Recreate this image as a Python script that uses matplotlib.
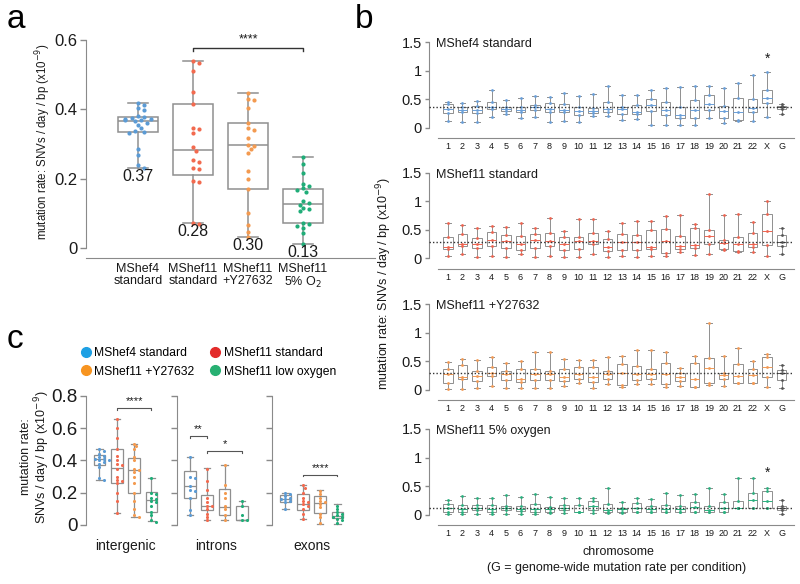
import numpy as np
import matplotlib
matplotlib.use('Agg')
import matplotlib.pyplot as plt
from matplotlib.lines import Line2D

plt.rcParams['font.family'] = ['Liberation Sans', 'DejaVu Sans']
plt.rcParams['axes.edgecolor'] = '#8a8a8a'
plt.rcParams['xtick.color'] = '#8a8a8a'
plt.rcParams['ytick.color'] = '#8a8a8a'
plt.rcParams['xtick.labelcolor'] = '#1a1a1a'
plt.rcParams['ytick.labelcolor'] = '#1a1a1a'

# ---------------- data: panel a ----------------
a_groups = ['MShef4\nstandard', 'MShef11\nstandard', 'MShef11\n+Y27632', 'MShef11\n5% O$_2$']
a_medlabels = ['0.37', '0.28', '0.30', '0.13']
# box stats: whislo, q1, med, q3, whishi
a_box = [(0.232, 0.336, 0.367, 0.377, 0.419),
         (0.071, 0.212, 0.282, 0.414, 0.540),
         (0.033, 0.171, 0.296, 0.361, 0.446),
         (0.011, 0.071, 0.127, 0.171, 0.262)]
a_pts_mshef4 = [0.417, 0.413, 0.405, 0.398, 0.38, 0.377, 0.375, 0.373, 0.372, 0.37, 0.369,
                0.366, 0.362, 0.355, 0.345, 0.338, 0.335, 0.333, 0.287, 0.268, 0.238, 0.232]
a_pts_mshef11 = [0.540, 0.533, 0.511, 0.451, 0.415, 0.345, 0.342, 0.331, 0.292, 0.281,
                 0.254, 0.249, 0.230, 0.229, 0.193, 0.190, 0.073, 0.069]
a_pts_y27632 = [0.446, 0.430, 0.427, 0.405, 0.361, 0.345, 0.340, 0.316, 0.297, 0.295,
                0.286, 0.273, 0.222, 0.198, 0.170, 0.100, 0.066, 0.047, 0.033]
a_pts_o2 = [0.262, 0.242, 0.215, 0.184, 0.178, 0.172, 0.167, 0.162, 0.136, 0.129, 0.125,
            0.116, 0.112, 0.107, 0.071, 0.068, 0.064, 0.059, 0.042, 0.011]

# ---------------- data: panel b ----------------
chromosomes = [str(i) for i in range(1, 23)] + ['X', 'G']
b_titles = ['MShef4 standard', 'MShef11 standard', 'MShef11 +Y27632', 'MShef11 5% oxygen']
b_genome_rate = [0.37, 0.28, 0.30, 0.13]
b_mshef4 = [(0.12, 0.26, 0.33, 0.42, 0.45), (0.10, 0.27, 0.32, 0.36, 0.43), (0.10, 0.26, 0.32, 0.38, 0.47),
            (0.20, 0.33, 0.37, 0.45, 0.66), (0.24, 0.30, 0.33, 0.37, 0.49), (0.17, 0.28, 0.32, 0.37, 0.52),
            (0.20, 0.32, 0.36, 0.40, 0.56), (0.10, 0.28, 0.33, 0.44, 0.54), (0.12, 0.27, 0.32, 0.41, 0.61),
            (0.11, 0.23, 0.30, 0.36, 0.56), (0.21, 0.26, 0.30, 0.35, 0.59), (0.21, 0.28, 0.33, 0.45, 0.74),
            (0.14, 0.24, 0.33, 0.37, 0.58), (0.16, 0.24, 0.28, 0.40, 0.57), (0.05, 0.30, 0.40, 0.50, 0.67),
            (0.05, 0.23, 0.32, 0.46, 0.70), (0.06, 0.17, 0.23, 0.37, 0.71), (0.06, 0.17, 0.32, 0.48, 0.74),
            (0.17, 0.32, 0.41, 0.58, 0.74), (0.08, 0.18, 0.29, 0.38, 0.69), (0.13, 0.14, 0.27, 0.53, 0.78),
            (0.13, 0.27, 0.35, 0.50, 0.92), (0.19, 0.44, 0.52, 0.67, 0.97), (0.24, 0.33, 0.36, 0.38, 0.42)]
b_mshef11 = [(0.05, 0.16, 0.20, 0.38, 0.62), (0.07, 0.22, 0.25, 0.43, 0.58), (0.02, 0.18, 0.26, 0.36, 0.53),
             (0.05, 0.22, 0.33, 0.46, 0.57), (0.02, 0.18, 0.30, 0.41, 0.55), (0.08, 0.14, 0.25, 0.40, 0.62),
             (0.02, 0.18, 0.33, 0.42, 0.54), (0.04, 0.22, 0.30, 0.44, 0.70), (0.03, 0.14, 0.25, 0.38, 0.48),
             (0.03, 0.17, 0.30, 0.38, 0.69), (0.07, 0.25, 0.30, 0.44, 0.69), (0.03, 0.13, 0.20, 0.34, 0.48),
             (0.05, 0.14, 0.28, 0.42, 0.62), (0.03, 0.15, 0.28, 0.41, 0.66), (0.05, 0.16, 0.20, 0.50, 0.66),
             (0.05, 0.10, 0.30, 0.51, 0.74), (0.12, 0.16, 0.22, 0.40, 0.76), (0.06, 0.18, 0.24, 0.53, 0.60),
             (0.08, 0.26, 0.40, 0.49, 1.13), (0.15, 0.16, 0.27, 0.33, 0.76), (0.12, 0.13, 0.26, 0.38, 0.77),
             (0.12, 0.20, 0.25, 0.45, 0.64), (0.05, 0.24, 0.48, 0.77, 1.01), (0.07, 0.21, 0.28, 0.41, 0.54)]
b_y27632 = [(0.02, 0.12, 0.27, 0.37, 0.48), (0.02, 0.19, 0.23, 0.43, 0.54), (0.03, 0.16, 0.24, 0.33, 0.53),
            (0.07, 0.25, 0.30, 0.40, 0.57), (0.03, 0.17, 0.27, 0.33, 0.47), (0.03, 0.14, 0.20, 0.37, 0.50),
            (0.03, 0.18, 0.28, 0.36, 0.67), (0.03, 0.18, 0.28, 0.33, 0.67), (0.07, 0.16, 0.23, 0.36, 0.54),
            (0.13, 0.20, 0.27, 0.40, 0.53), (0.03, 0.14, 0.23, 0.40, 0.53), (0.10, 0.19, 0.27, 0.33, 0.57),
            (0.05, 0.09, 0.30, 0.45, 0.59), (0.10, 0.17, 0.27, 0.42, 0.69), (0.10, 0.20, 0.27, 0.36, 0.69),
            (0.05, 0.10, 0.27, 0.47, 0.66), (0.07, 0.15, 0.22, 0.29, 0.38), (0.05, 0.05, 0.20, 0.47, 0.59),
            (0.08, 0.12, 0.39, 0.55, 1.16), (0.07, 0.20, 0.26, 0.30, 0.59), (0.12, 0.13, 0.25, 0.46, 0.74),
            (0.12, 0.12, 0.26, 0.36, 0.50), (0.05, 0.23, 0.40, 0.58, 0.63), (0.03, 0.17, 0.30, 0.35, 0.44)]
b_o2 = [(0.02, 0.06, 0.12, 0.20, 0.26), (0.02, 0.06, 0.10, 0.18, 0.33), (0.02, 0.08, 0.12, 0.18, 0.29),
        (0.02, 0.06, 0.10, 0.18, 0.30), (0.02, 0.09, 0.12, 0.15, 0.34), (0.02, 0.07, 0.11, 0.15, 0.32),
        (0.02, 0.06, 0.10, 0.20, 0.37), (0.03, 0.06, 0.10, 0.14, 0.31), (0.03, 0.09, 0.12, 0.18, 0.29),
        (0.05, 0.06, 0.06, 0.18, 0.30), (0.03, 0.09, 0.15, 0.25, 0.30), (0.03, 0.05, 0.09, 0.20, 0.47),
        (0.04, 0.06, 0.10, 0.13, 0.22), (0.05, 0.06, 0.12, 0.21, 0.30), (0.05, 0.06, 0.10, 0.15, 0.27),
        (0.06, 0.06, 0.10, 0.17, 0.39), (0.06, 0.06, 0.10, 0.16, 0.34), (0.06, 0.06, 0.14, 0.23, 0.36),
        (0.06, 0.06, 0.09, 0.16, 0.47), (0.06, 0.06, 0.13, 0.23, 0.37), (0.12, 0.12, 0.12, 0.25, 0.64),
        (0.12, 0.12, 0.26, 0.38, 0.64), (0.12, 0.12, 0.25, 0.41, 0.47), (0.01, 0.08, 0.12, 0.16, 0.26)]
b_star = [(22, 1.21), None, None, (22, 0.73)]

# ---------------- data: panel c ----------------
c_regions = ['intergenic', 'introns', 'exons']
c_legend = ['MShef4 standard', 'MShef11 standard', 'MShef11 +Y27632', 'MShef11 low oxygen']
c_box = {
    'intergenic': [(0.282, 0.375, 0.412, 0.433, 0.474), (0.072, 0.260, 0.355, 0.472, 0.658),
                   (0.050, 0.198, 0.344, 0.416, 0.505), (0.025, 0.080, 0.153, 0.204, 0.293)],
    'introns': [(0.062, 0.169, 0.241, 0.334, 0.420), (0.033, 0.091, 0.118, 0.183, 0.353),
                (0.031, 0.060, 0.113, 0.225, 0.371), (0.031, 0.031, 0.031, 0.118, 0.148)],
    'exons': [(0.097, 0.142, 0.163, 0.184, 0.200), (0.035, 0.093, 0.132, 0.194, 0.247),
              (0.008, 0.072, 0.134, 0.177, 0.216), (0.008, 0.045, 0.056, 0.082, 0.128)],
}
c_pts = {
    'intergenic': [[0.47, 0.46, 0.44, 0.43, 0.42, 0.41, 0.41, 0.40, 0.40, 0.39, 0.38, 0.36, 0.29, 0.28],
                   [0.658, 0.60, 0.54, 0.47, 0.43, 0.40, 0.38, 0.37, 0.35, 0.30, 0.28, 0.27, 0.26, 0.20, 0.15, 0.072],
                   [0.505, 0.49, 0.47, 0.42, 0.40, 0.35, 0.34, 0.33, 0.30, 0.26, 0.20, 0.15, 0.10, 0.06, 0.05],
                   [0.29, 0.20, 0.19, 0.17, 0.16, 0.15, 0.14, 0.12, 0.08, 0.06, 0.03, 0.02]],
    'introns': [[0.42, 0.30, 0.29, 0.24, 0.22, 0.21, 0.17, 0.09, 0.06],
                [0.35, 0.27, 0.22, 0.17, 0.14, 0.12, 0.12, 0.10, 0.07, 0.05, 0.03],
                [0.37, 0.25, 0.20, 0.17, 0.12, 0.10, 0.06, 0.03],
                [0.15, 0.12, 0.06, 0.03, 0.03]],
    'exons': [[0.20, 0.19, 0.18, 0.17, 0.16, 0.16, 0.15, 0.14, 0.10],
              [0.247, 0.23, 0.20, 0.17, 0.15, 0.14, 0.13, 0.12, 0.10, 0.07, 0.04],
              [0.21, 0.19, 0.17, 0.15, 0.14, 0.13, 0.11, 0.07, 0.05, 0.01],
              [0.12, 0.10, 0.08, 0.07, 0.06, 0.05, 0.05, 0.04, 0.03, 0.01]],
}
# brackets: (from box, to box, height, stars)
c_sig = {'intergenic': [(1, 3, 0.726, '****')],
         'introns': [(0, 1, 0.550, '**'), (1, 3, 0.458, '*')],
         'exons': [(1, 3, 0.313, '****')]}

pt_colors = ['#5b9bd5', '#f26a4f', '#f39a50', '#20ad78']
b_colors = ['#6a9fd8', '#ee6450', '#f29a55', '#2bb07f']
leg_colors = ['#1ea0e4', '#e32b2a', '#f79420', '#27b072']
box_gray = '#8f8f8f'
txt = '#1a1a1a'

W, H = 800, 584
fig = plt.figure(figsize=(W / 100, H / 100), dpi=100)


def rect(l, t, r, b):
    return [l / W, 1 - b / H, (r - l) / W, (b - t) / H]


def swarm(vals, x_ppu, y_ppu, d):
    # simple beeswarm: shift a point sideways until it clears its neighbours
    vals = np.asarray(vals)
    placed = []
    offs = np.zeros(len(vals))
    for i in np.argsort(vals)[::-1]:
        y = vals[i] * y_ppu
        for k in [0, 1, -1, 2, -2, 3, -3, 4, -4]:
            x = k * d * 0.75
            if all((x - px) ** 2 + (y - py) ** 2 >= (d * 0.95) ** 2 for px, py in placed):
                break
        placed.append((x, y))
        offs[i] = x / x_ppu
    return offs


def boxes(ax, stats, pos, width, lw, capw, med_colors=None):
    st = [dict(whislo=s[0], q1=s[1], med=s[2], q3=s[3], whishi=s[4]) for s in stats]
    art = ax.bxp(st, positions=pos, widths=width, showfliers=False, patch_artist=True,
                 capwidths=capw,
                 boxprops=dict(facecolor='white', edgecolor=box_gray, linewidth=lw),
                 whiskerprops=dict(color=box_gray, linewidth=lw),
                 capprops=dict(color=box_gray, linewidth=lw),
                 medianprops=dict(color=box_gray, linewidth=lw))
    if med_colors is not None:
        for m, c in zip(art['medians'], med_colors):
            m.set_color(c)
    return art


# ================= panel a =================
axa = fig.add_axes(rect(85.75, 40, 374.5, 258.4))
axa.set_xlim(-0.95, 4.3)
axa.set_ylim(-0.03, 0.6)
xppu_a, yppu_a = 55.0, 346.7
boxes(axa, a_box, range(4), 0.72, 1.1, 0.36)
for i, pts in enumerate([a_pts_mshef4, a_pts_mshef11, a_pts_y27632, a_pts_o2]):
    off = swarm(pts, xppu_a, yppu_a, 4.2)
    axa.scatter(i + off, pts, s=9, color=pt_colors[i], zorder=3, linewidths=0)
    axa.annotate(a_medlabels[i], xy=(i, a_box[i][0]), xytext=(0, -0.8), textcoords='offset points',
                 ha='center', va='top', fontsize=11.5, color=txt)
axa.plot([1, 1, 3, 3], [0.569, 0.576, 0.576, 0.569], color='#333333', lw=1)
axa.text(2, 0.585, '****', ha='center', va='bottom', fontsize=9, color=txt)
axa.spines[['top', 'right']].set_visible(False)
axa.spines['left'].set_bounds(0, 0.6)
axa.set_yticks([0, 0.2, 0.4, 0.6])
axa.set_yticklabels(['0', '0.2', '0.4', '0.6'], fontsize=12)
axa.set_xticks(range(4))
axa.set_xticklabels(a_groups, fontsize=9, linespacing=1.05)
axa.tick_params(axis='x', length=0, pad=3)
axa.tick_params(axis='y', length=4, width=1, pad=2)
fig.text(43 / W, 1 - 142 / H, 'mutation rate: SNVs / day / bp (x10$^{-9}$)', rotation=90,
         ha='center', va='center', fontsize=8.3, color=txt)

# ================= panel b =================
b_sets = [b_mshef4, b_mshef11, b_y27632, b_o2]
b_tops = [42, 172.5, 304, 429]
for k in range(4):
    t = b_tops[k]
    ax = fig.add_axes(rect(429, t, 794, t + 96))
    ax.set_xlim(-1.31, 23.86)
    ax.set_ylim(-0.175, 1.5)
    cols = [b_colors[k]] * 23 + ['#555555']
    boxes(ax, b_sets[k], range(24), 0.68, 0.7, 0.4, med_colors=cols)
    for i, s in enumerate(b_sets[k]):
        ax.scatter([i] * 5, s, s=4, color=cols[i], zorder=3, linewidths=0)
    ax.axhline(b_genome_rate[k], color='#333333', lw=1, ls=(0, (1, 1.5)), zorder=4)
    if b_star[k] is not None:
        ax.text(b_star[k][0], b_star[k][1], '*', ha='center', va='center', fontsize=10, color=txt)
    ax.text(-0.83, 1.46, b_titles[k], ha='left', va='center', fontsize=9, color=txt)
    ax.spines[['top', 'right']].set_visible(False)
    ax.spines['left'].set_bounds(0, 1.5)
    ax.spines['bottom'].set_bounds(-0.7, 23.86)
    ax.set_yticks([0, 0.5, 1, 1.5])
    ax.set_yticklabels(['0', '0.5', '1', '1.5'], fontsize=10.5)
    ax.set_xticks(range(24))
    ax.set_xticklabels(chromosomes, fontsize=6.5)
    ax.tick_params(axis='x', length=0, pad=3)
    ax.tick_params(axis='y', length=3, width=1, pad=2)
fig.text(384 / W, 1 - 283 / H, 'mutation rate: SNVs / day / bp (x10$^{-9}$)', rotation=90,
         ha='center', va='center', fontsize=9, color=txt)
fig.text(618 / W, 1 - 552 / H, 'chromosome', ha='center', va='center', fontsize=9, color=txt)
fig.text(617 / W, 1 - 568 / H, '(G = genome-wide mutation rate per condition)',
         ha='center', va='center', fontsize=9, color=txt)

# ================= panel c =================
c_left = [86, 176.5, 272]
for j, reg in enumerate(c_regions):
    ax = fig.add_axes(rect(c_left[j], 396, c_left[j] + 82, 528.2))
    ax.set_xlim(-0.78, 3.96)
    ax.set_ylim(-0.02, 0.8)
    boxes(ax, c_box[reg], range(4), 0.68, 0.9, 0.36)
    for i, pts in enumerate(c_pts[reg]):
        off = swarm(pts, 17.3, 161.25, 3.2)
        ax.scatter(i + off, pts, s=5, color=pt_colors[i], zorder=3, linewidths=0)
    for a0, a1, h, stars in c_sig[reg]:
        ax.plot([a0, a0, a1, a1], [h - 0.012, h, h, h - 0.012], color='#555555', lw=0.8)
        ax.text((a0 + a1) / 2, h + 0.012, stars, ha='center', va='bottom', fontsize=8, color=txt)
    ax.spines[['top', 'right', 'bottom']].set_visible(False)
    ax.spines['left'].set_bounds(0, 0.8)
    ax.set_yticks([0, 0.2, 0.4, 0.6, 0.8])
    if j == 0:
        ax.set_yticklabels(['0', '0.2', '0.4', '0.6', '0.8'], fontsize=13.5)
    else:
        ax.set_yticklabels([])
    ax.tick_params(axis='y', length=4, width=1, pad=2)
    ax.set_xticks([1.5])
    ax.set_xticklabels([reg], fontsize=10)
    ax.tick_params(axis='x', length=0, pad=8)
fig.text(36 / W, 1 - 457 / H, 'mutation rate:\nSNVs / day / bp (x10$^{-9}$)', rotation=90,
         ha='center', va='center', fontsize=9, color=txt, linespacing=1.1)
handles = [Line2D([], [], marker='o', ls='', markersize=7, markerfacecolor=c, markeredgecolor=c)
           for c in leg_colors]
order = [0, 2, 1, 3]
fig.legend([handles[i] for i in order], [c_legend[i] for i in order], ncol=2, frameon=False,
           loc='upper left', bbox_to_anchor=(80 / W, 1 - 347 / H), fontsize=8.7,
           handletextpad=0.2, columnspacing=1.2, borderpad=0, borderaxespad=0,
           labelspacing=0.55, handlelength=1.0)

# panel letters
for letter, x, y in [('a', 7, 28), ('b', 355, 28), ('c', 7, 348)]:
    fig.text(x / W, 1 - y / H, letter, ha='left', va='baseline', fontsize=24, color='black')

fig.savefig('out.png', dpi=100)
